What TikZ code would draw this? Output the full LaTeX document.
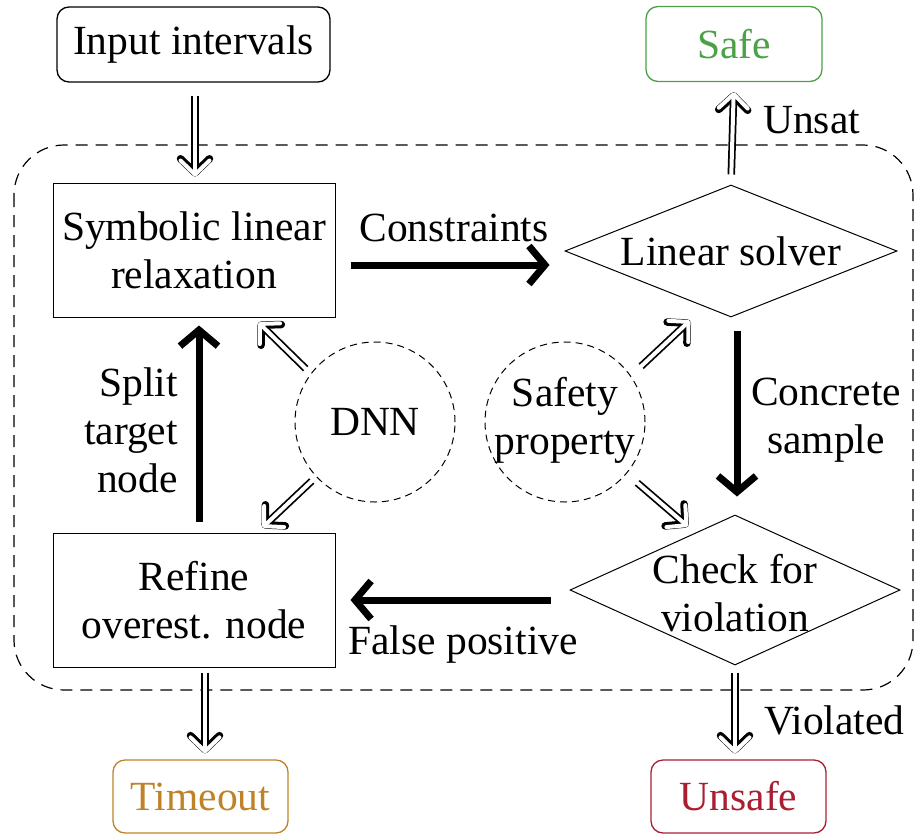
\documentclass[tikz,border=0pt]{standalone}
\usepackage{fontspec}
\setmainfont{Liberation Serif}
\usetikzlibrary{arrows.meta,shapes.geometric,calc}
\definecolor{safegreen}{RGB}{76,160,70}
\definecolor{toutorange}{RGB}{190,130,40}
\definecolor{unsafered}{RGB}{170,30,50}
\tikzset{
  every node/.style={font=\fontsize{41.5}{48}\selectfont, inner sep=0pt},
  term/.style={draw, rounded corners=12pt, line width=1.3pt, minimum height=75pt, align=center},
  procbox/.style={draw, line width=1pt, minimum width=282pt, minimum height=134pt, align=center},
  decision/.style={draw, diamond, line width=1pt},
  oracle/.style={draw, circle, dashed, dash pattern=on 7pt off 5pt, line width=1pt, minimum size=160pt, align=center},
  hollow/.style={line cap=round, line join=round,
    preaction={draw=black, line width=7.5pt, -{Straight Barb[length=14pt, width=29pt, round]}},
    draw=white, line width=4pt, -{Straight Barb[length=14pt, width=29pt, round]}},
  bold/.style={line width=7pt, -{Straight Barb[length=16pt, width=38pt]}},
  lbl/.style={align=center},
}
\begin{document}
\begin{tikzpicture}[x=1pt, y=-1pt]
\useasboundingbox (0,0) rectangle (916,836);
% frame
\draw[dashed, dash pattern=on 12pt off 8pt, line width=1.2pt, rounded corners=50pt] (14,145) rectangle (913,690);
% terminals
\node[term, minimum width=273pt] (inp) at (193.5,44.5) {Input intervals};
\node[term, draw=safegreen, text=safegreen, minimum width=176pt] (safe) at (734,44) {Safe};
\node[term, draw=toutorange, text=toutorange, minimum width=175pt, minimum height=73pt] (tout) at (200.5,796.5) {Timeout};
\node[term, draw=unsafered, text=unsafered, minimum width=175pt, minimum height=73pt] (unsafe) at (738.5,796.5) {Unsafe};
% process boxes
\node[procbox] (sym) at (194,250) {Symbolic linear\\relaxation};
\node[procbox] (ref) at (194,600) {Refine\\overest. node};
% decisions
\node[decision, minimum width=332pt, minimum height=132pt] (ls) at (731,251) {};
\node[lbl] (lstext) at (ls.center) {Linear solver};
\node[decision, minimum width=330pt, minimum height=150pt] (chk) at (735,590) {};
\node[lbl] (chktext) at ([yshift=-3pt]chk.center) {Check for\\violation};
% oracles
\node[oracle] (dnn) at (375,422) {DNN};
\node[oracle] (sp) at (565,422) {};
\node[lbl] (sptext) at ([yshift=2pt]sp.center) {Safety\\property};
% hollow arrows
\draw[hollow, shorten <=13pt, shorten >=6pt] ([xshift=1.5pt]inp.south) -- ([xshift=1pt]sym.north);
\draw[hollow, shorten <=10pt, shorten >=10pt] (ls.north) -- (safe.south);
\draw[hollow, shorten <=5pt, shorten >=6pt] ([xshift=11pt]ref.south) -- ([xshift=11pt]ref.south |- tout.north);
\draw[hollow, shorten <=7pt, shorten >=6pt] (chk.south) -- (chk.south |- unsafe.north);
\draw[hollow, shorten <=7pt] (dnn.143) -- ($(sym.south east)+(-77,5)$);
\draw[hollow, shorten <=6pt] (dnn.223) -- ($(ref.north east)+(-73,-5)$);
\draw[hollow, shorten <=14pt] (sp.35) -- ($(ls.south)+(-41,3)$);
\draw[hollow, shorten <=14pt] (sp.320) -- ($(chk.north)+(-47,12)$);
% bold arrows
\draw[bold] ($(sym.east)+(15,15)$) -- ($(ls.west)+(-15,14)$);
\draw[bold] ($(ls.south)+(6,13)$) -- ($(chk.north)+(2,-18)$);
\draw[bold] ($(chk.west)+(-19,10)$) -- ($(ref.east)+(15,0)$);
\draw[bold] ($(ref.north)+(5,-11)$) -- ($(sym.south)+(5,8)$);
% labels
\node[lbl] (lcons) at (454,228) {Constraints};
\node[lbl, anchor=west] (lunsat) at (763,120) {Unsat};
\node[lbl, anchor=west] (lconc) at (751,420) {Concrete\\sample};
\node[lbl] (lfp) at (463,645) {False positive};
\node[lbl, anchor=west] (lviol) at (764,720) {Violated};
\node[align=right, anchor=east] (lsplit) at (178,430) {Split\\target\\node};
\end{tikzpicture}
\end{document}
